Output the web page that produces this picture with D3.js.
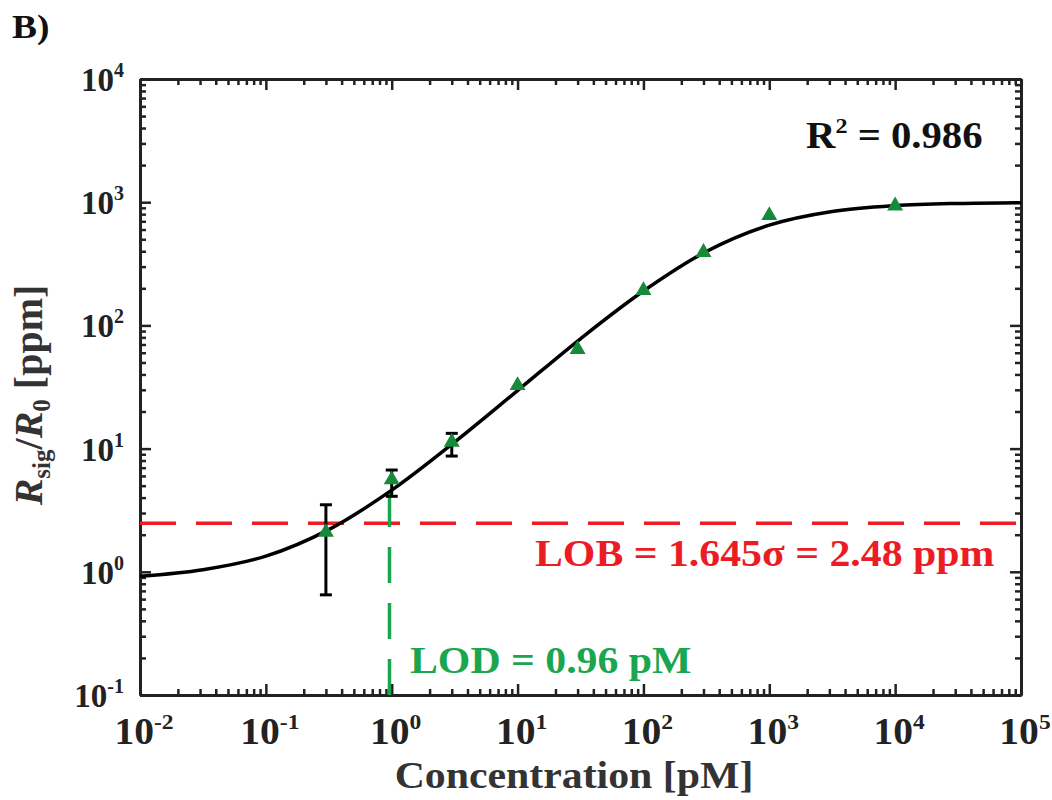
<!DOCTYPE html>
<html>
<head>
<meta charset="utf-8">
<script src="https://cdn.jsdelivr.net/npm/d3@7"></script>
<style>
  body { margin: 0; background: #fff; }
  text { font-family: "Liberation Serif", "Times New Roman", serif; font-weight: bold; }
</style>
</head>
<body>
<svg id="svg"></svg>
<script>
////////////////////////////////////////////////////////////////////////
// Data

// measured points (concentration in pM, response in ppm)
let concentration = [0.3, 1, 3, 10, 30, 100, 300, 1000, 10000];
let response      = [2.1, 5.6, 11.3, 32.6, 64, 192, 392, 780, 935];
let errLow        = [0.65, 4.1, 8.7, null, null, null, null, null, null];
let errHigh       = [3.5, 6.7, 13.3, null, null, null, null, null, null];

// fitted curve, every half decade
let fitX = [0.01, 0.0316, 0.1, 0.316, 1, 3.16, 10, 31.6, 100, 316, 1000, 3162, 10000, 31623, 100000];
let fitY = [0.92, 1.04, 1.34, 2.2, 4.6, 11.3, 29.6, 77.9, 190, 398, 651, 840, 937, 977, 992];

// limit of blank / limit of detection
let lobValue = 2.48;
let lodValue = 0.96;
let lodTop   = 4.45;   // where the green line meets the curve

// axis ticks
let xDecades = [-2, -1, 0, 1, 2, 3, 4, 5];
let yDecades = [-1, 0, 1, 2, 3, 4];

// texts
let panelLabel = "B)";
let r2Text     = "R";
let r2Value    = " = 0.986";
let lobText    = "LOB = 1.645\u03c3 = 2.48 ppm";
let lodText    = "LOD = 0.96 pM";
let xTitle     = "Concentration [pM]";


////////////////////////////////////////////////////////////////////////
// Layout

let width = 1052, height = 800;
let plotLeft = 140, plotRight = 1021, plotTop = 79, plotBottom = 695;
let stretch = 1.1;   // the original figure is a bit wider than tall

let svg = d3.select("#svg").attr("width", width).attr("height", height);

let x = d3.scaleLog().domain([1e-2, 1e5]).range([plotLeft, plotRight]);
let y = d3.scaleLog().domain([1e-1, 1e4]).range([plotBottom, plotTop]);

let majorX = xDecades.map(d => Math.pow(10, d));
let majorY = yDecades.map(d => Math.pow(10, d));
function minors(decades) {
  let out = [];
  for (let i = 0; i < decades.length - 1; ++i) {
    for (let k = 2; k <= 9; ++k) out.push(k * Math.pow(10, decades[i]));
  }
  return out;
}
let minorX = minors(xDecades);
let minorY = minors(yDecades);

let red = "#ec1c24", green = "#1aa64f", darkGreen = "#17893a";

// place a text at (px, py), widened horizontally
function place(sel, px, py, sx) {
  return sel.attr("transform", `translate(${px},${py}) scale(${sx},1)`);
}


////////////////////////////////////////////////////////////////////////
// Axes (ticks pointing inward, box on all four sides)

function styleAxis(g) {
  g.selectAll("path.domain").attr("stroke", "#222").attr("stroke-width", 3);
  g.selectAll(".tick line").attr("stroke", "#222").attr("stroke-width", 2.5);
  g.selectAll(".tick text").remove();
}

function addAxis(axisFn, scale, vals, len, transform) {
  svg.append("g")
     .attr("transform", transform)
     .call(axisFn(scale).tickValues(vals).tickSizeInner(-len).tickSizeOuter(0).tickFormat(() => ""))
     .call(styleAxis);
}

addAxis(d3.axisBottom, x, minorX, 6, `translate(0,${plotBottom})`);
addAxis(d3.axisBottom, x, majorX, 11, `translate(0,${plotBottom})`);
addAxis(d3.axisTop, x, minorX, 6, `translate(0,${plotTop})`);
addAxis(d3.axisTop, x, majorX, 11, `translate(0,${plotTop})`);
addAxis(d3.axisLeft, y, minorY, 6, `translate(${plotLeft},0)`);
addAxis(d3.axisLeft, y, majorY, 11, `translate(${plotLeft},0)`);
addAxis(d3.axisRight, y, minorY, 6, `translate(${plotRight},0)`);
addAxis(d3.axisRight, y, majorY, 11, `translate(${plotRight},0)`);

// tick labels with superscript exponents
let xLabels = svg.append("g").selectAll("text").data(xDecades).enter().append("text")
   .attr("transform", d => `translate(${x(Math.pow(10, d)) + 4},744) scale(1.07,1)`)
   .attr("text-anchor", "middle")
   .attr("font-size", 37)
   .attr("fill", "#222");
xLabels.append("tspan").text("10");
xLabels.append("tspan").attr("font-size", 22).attr("dy", -15).text(d => d < 0 ? "-" + (-d) : d);

let yLabels = svg.append("g").selectAll("text").data(yDecades).enter().append("text")
   .attr("x", 124)
   .attr("y", d => y(Math.pow(10, d)) + 12)
   .attr("text-anchor", "end")
   .attr("font-size", 33)
   .attr("fill", "#222");
yLabels.append("tspan").text("10");
yLabels.append("tspan").attr("font-size", 20).attr("dy", -14).text(d => d < 0 ? "-" + (-d) : d);


////////////////////////////////////////////////////////////////////////
// Reference lines

svg.append("line")
   .attr("x1", plotLeft).attr("x2", plotRight)
   .attr("y1", y(lobValue)).attr("y2", y(lobValue))
   .attr("stroke", red).attr("stroke-width", 3.5)
   .attr("stroke-dasharray", "36,20");

svg.append("line")
   .attr("x1", x(lodValue)).attr("x2", x(lodValue))
   .attr("y1", plotBottom).attr("y2", y(lodTop))
   .attr("stroke", green).attr("stroke-width", 3.5)
   .attr("stroke-dasharray", "36,20");


////////////////////////////////////////////////////////////////////////
// Fit curve, error bars, points

let line = d3.line()
  .x(d => x(d[0]))
  .y(d => y(d[1]))
  .curve(d3.curveCatmullRom);

svg.append("path")
   .datum(d3.zip(fitX, fitY))
   .attr("d", line)
   .attr("fill", "none")
   .attr("stroke", "#000")
   .attr("stroke-width", 3.5);

let points = concentration.map((c, i) => ({c: c, v: response[i], lo: errLow[i], hi: errHigh[i]}));
let bars = svg.append("g").selectAll("g").data(points.filter(d => d.lo !== null)).enter().append("g")
   .attr("stroke", "#000").attr("stroke-width", 3);
bars.append("line")
   .attr("x1", d => x(d.c)).attr("x2", d => x(d.c))
   .attr("y1", d => y(d.lo)).attr("y2", d => y(d.hi));
bars.append("line")
   .attr("x1", d => x(d.c) - 6).attr("x2", d => x(d.c) + 6)
   .attr("y1", d => y(d.lo)).attr("y2", d => y(d.lo));
bars.append("line")
   .attr("x1", d => x(d.c) - 6).attr("x2", d => x(d.c) + 6)
   .attr("y1", d => y(d.hi)).attr("y2", d => y(d.hi));

svg.append("g").selectAll("path").data(points).enter().append("path")
   .attr("transform", d => `translate(${x(d.c)},${y(d.v)})`)
   .attr("d", d3.symbol().type(d3.symbolTriangle).size(110))
   .attr("fill", darkGreen);


////////////////////////////////////////////////////////////////////////
// Annotations

place(svg.append("text"), 12, 38, stretch).attr("font-size", 34).attr("fill", "#111").text(panelLabel);

let r2 = place(svg.append("text"), 806, 148, stretch).attr("font-size", 37).attr("fill", "#111");
r2.append("tspan").text(r2Text);
r2.append("tspan").attr("font-size", 22).attr("dy", -15).text("2");
r2.append("tspan").attr("dy", 15).text(r2Value);

place(svg.append("text"), 535, 566, stretch).attr("font-size", 38).attr("fill", red).text(lobText);
place(svg.append("text"), 410, 673, stretch).attr("font-size", 38).attr("fill", green).text(lodText);

place(svg.append("text"), 574, 788, stretch).attr("text-anchor", "middle")
   .attr("font-size", 38).attr("fill", "#333").text(xTitle);

// y title: R_sig / R_0 [ppm], rotated
let yt = svg.append("text")
   .attr("transform", "translate(42,395) rotate(-90)")
   .attr("text-anchor", "middle")
   .attr("font-size", 40).attr("fill", "#333");
yt.append("tspan").attr("font-style", "italic").text("R");
yt.append("tspan").attr("font-size", 25).attr("dy", 8).text("sig");
yt.append("tspan").attr("dy", -8).text("/");
yt.append("tspan").attr("font-style", "italic").text("R");
yt.append("tspan").attr("font-size", 25).attr("dy", 8).text("0");
yt.append("tspan").attr("dy", -8).text(" [ppm]");
</script>
</body>
</html>
